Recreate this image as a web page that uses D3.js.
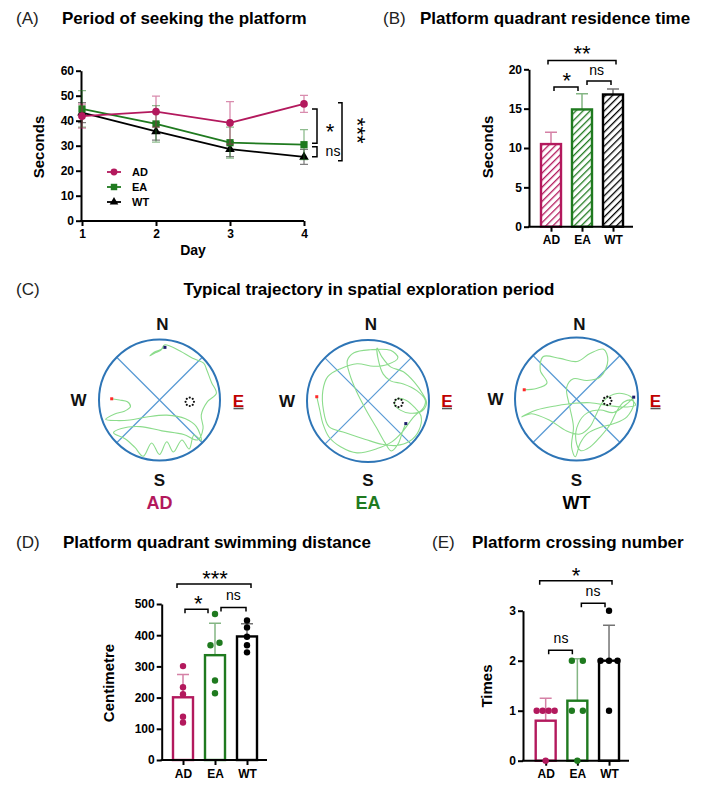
<!DOCTYPE html>
<html><head><meta charset="utf-8">
<script src="https://cdn.jsdelivr.net/npm/d3@7"></script>
<style>body{margin:0;background:#fff} svg text{font-family:"Liberation Sans",Arial,sans-serif}</style>
</head><body><svg id="c" width="720" height="798"></svg>
<script>
// ---------------- DATA ----------------
const groups = ["AD","EA","WT"];
const groupColors = ["#b3195d","#1f7a1f","#000000"];
const days = [1,2,3,4];
const yTicksA = [0,10,20,30,40,50,60];
// Panel A: escape latency (mean ± SD)
const latencyAD = [41.8,43.6,39.1,46.7];
const latencyADsd = [4.8,6.2,8.5,3.4];
const latencyEA = [44.7,38.7,31.2,30.4];
const latencyEAsd = [7.3,7.3,6.2,6.0];
const latencyWT = [43.2,35.7,28.6,25.5];
const latencyWTsd = [4.0,3.5,3.0,3.0];
// Panel B: platform quadrant residence time
const yTicksB = [0,5,10,15,20];
const residenceMean = [10.5,14.9,16.8];
const residenceSD = [1.5,2.0,0.7];
// Panel D: platform quadrant swimming distance
const yTicksD = [0,100,200,300,400,500];
const distanceAD = [301,233,211,139,120];
const distanceEA = [468,368,376,255,214];
const distanceWT = [447,425,395,368,345];
const distanceMean = [201,336,396];
const distanceSD = [73,102,41];
// Panel E: platform crossing number
const yTicksE = [0,1,2,3];
const crossingAD = [1,1,1,1,0];
const crossingEA = [2,2,1,1,0];
const crossingWT = [3,2,2,2,1];
const crossingMean = [0.8,1.2,2.0];
const crossingSD = [0.45,0.84,0.71];
// Panel C: swim trajectories (normalized pool coordinates, -1..1)
const pathAD = [[-0.79,-0.02],[-0.66,0],[-0.53,0.03],[-0.48,0.11],[-0.57,0.18],[-0.74,0.23],[-0.89,0.32],[-0.71,0.34],[-0.49,0.33],[-0.21,0.28],[0.12,0.25],[0.43,0.31],[0.61,0.44],[0.69,0.67],[0.57,0.58],[0.49,0.81],[0.37,0.66],[0.23,0.86],[0.12,0.69],[0,0.9],[-0.13,0.71],[-0.27,0.93],[-0.41,0.78],[-0.57,0.64],[-0.76,0.54],[-0.63,0.47],[-0.32,0.44],[0.04,0.51],[0.4,0.57],[0.63,0.66],[0.72,0.47],[0.69,0.25],[0.79,0.03],[0.94,-0.11],[0.86,-0.29],[0.78,-0.5],[0.73,-0.61],[0.57,-0.68],[0.34,-0.81],[0.18,-0.89],[0.08,-0.91],[0.02,-0.82],[-0.07,-0.78],[-0.16,-0.73],[-0.09,-0.79],[0.01,-0.83],[0.09,-0.87]];
const pathEA = [[-0.84,-0.07],[-0.79,0.15],[-0.74,0.37],[-0.64,0.59],[-0.45,0.75],[-0.18,0.85],[0.15,0.78],[0.39,0.67],[0.56,0.51],[0.75,0.26],[0.91,0.11],[0.94,-0.01],[0.8,-0.17],[0.58,-0.28],[0.37,-0.33],[0.25,-0.44],[0.17,-0.67],[0.15,-0.87],[0.23,-0.72],[0.37,-0.56],[0.58,-0.48],[0.76,-0.31],[0.9,-0.11],[0.96,0.03],[0.89,0.16],[0.69,0.2],[0.53,0.15],[0.43,0.05],[0.49,-0.04],[0.63,-0.01],[0.76,0.1],[0.87,0.25],[0.83,0.49],[0.68,0.66],[0.46,0.73],[0.23,0.71],[-0.04,0.63],[-0.37,0.52],[-0.64,0.42],[-0.73,0.15],[-0.74,-0.17],[-0.66,-0.4],[-0.45,-0.53],[-0.18,-0.61],[0.09,-0.57],[0.32,-0.6],[0.49,-0.71],[0.37,-0.83],[0.04,-0.84],[-0.23,-0.79],[-0.34,-0.66],[-0.3,-0.44],[-0.19,-0.16],[-0.03,0.15],[0.14,0.44],[0.27,0.67],[0.38,0.82],[0.49,0.71],[0.57,0.49],[0.62,0.37]];
const pathWT = [[-0.85,-0.15],[-0.65,-0.17],[-0.48,-0.26],[-0.59,-0.47],[-0.54,-0.69],[-0.27,-0.66],[0.01,-0.61],[0.22,-0.74],[0.44,-0.81],[0.51,-0.63],[0.39,-0.36],[0.17,-0.3],[-0.05,-0.33],[-0.16,-0.19],[-0.11,0.13],[-0.05,0.45],[-0.08,0.78],[-0.02,0.94],[0.06,0.72],[0.18,0.56],[0.39,0.46],[0.61,0.4],[0.82,0.29],[0.93,0.08],[0.88,-0.04],[0.66,-0.09],[0.45,0.02],[0.33,0.23],[0.22,0.45],[0.06,0.57],[-0.16,0.52],[-0.43,0.35],[-0.73,0.24],[-0.89,0.29],[-0.65,0.18],[-0.32,0.11],[-0.04,0.07],[0.22,0.06],[0.55,0.11],[0.82,0.13],[0.96,0.1],[0.9,0.02],[0.77,0.05],[0.66,0.19],[0.55,0.41],[0.39,0.61],[0.22,0.78],[0.07,0.84],[-0.01,0.67],[0.03,0.4],[0.17,0.23],[0.39,0.18],[0.6,0.22],[0.83,0.07],[0.93,-0.03]];
const platformPos = [0.5,0.03];
const compass = ["N","S","W","E"];

// ---------------- HELPERS ----------------
const svg = d3.select("#c");
function txt(x,y,s,o={}){
  return svg.append("text").attr("x",x).attr("y",y)
    .attr("text-anchor",o.anchor||"middle").attr("dominant-baseline","central")
    .attr("font-size",o.size||12).attr("font-weight",o.weight||"bold")
    .attr("fill",o.fill||"#000").text(s);
}
function star(x,y,s,size){ return txt(x,y+0.23*size,s,{size:size,weight:"normal"}); }
function ns(x,y){ return txt(x,y-1,"ns",{size:14,weight:"normal"}); }
function hBracket(x1,x2,y,drop){
  svg.append("path").attr("d",`M${x1},${y+drop}V${y}H${x2}V${y+drop}`)
    .attr("fill","none").attr("stroke","#000").attr("stroke-width",1.5);
}
function vBracket(x,y1,y2,w){
  svg.append("path").attr("d",`M${x-w},${y1}H${x}V${y2}H${x-w}`)
    .attr("fill","none").attr("stroke","#000").attr("stroke-width",1.5);
}
function styleAxis(g){
  g.select(".domain").attr("stroke","#000").attr("stroke-width",2);
  g.selectAll(".tick line").attr("stroke","#000").attr("stroke-width",2);
  g.selectAll(".tick text").attr("font-size",12).attr("font-weight","bold").attr("fill","#000")
    .attr("font-family",'"Liberation Sans",Arial,sans-serif');
}
function panelTitle(x0,x1,y,letter,title){
  txt(x0,y,letter,{anchor:"start",size:17,weight:"normal",fill:"#222"});
  txt(x1,y,title,{anchor:"start",size:17});
}

// ---------------- PANEL A ----------------
panelTitle(16,62,18,"(A)","Period of seeking the platform");
const xA = d3.scaleLinear().domain([1,4]).range([82,304]);
const yA = d3.scaleLinear().domain([0,60]).range([220.7,70.7]);
const gAy = svg.append("g").attr("transform","translate(81,0)")
  .call(d3.axisLeft(yA).tickValues(yTicksA).tickSize(5).tickSizeOuter(0).tickPadding(2));
styleAxis(gAy);
const gAx = svg.append("g").attr("transform","translate(0,221)")
  .call(d3.axisBottom(xA).tickValues(days).tickFormat(d3.format("d")).tickSize(5).tickSizeOuter(0).tickPadding(3));
styleAxis(gAx);
gAx.select(".domain").attr("d","M80,0H304");
txt(38,147,"Seconds",{size:15}).attr("transform","rotate(-90,38,147)");
txt(193,250,"Day",{size:14});

const latency = [[latencyAD,latencyADsd],[latencyEA,latencyEAsd],[latencyWT,latencyWTsd]];
const symTypes = [d3.symbolCircle,d3.symbolSquare,d3.symbolTriangle];
const symSizes = [46,52,40];
[2,1,0].forEach(gi=>{
  const [m,sd] = latency[gi]; const col = groupColors[gi];
  const g = svg.append("g");
  days.forEach((d,i)=>{
    const x = xA(d);
    g.append("path").attr("d",`M${x},${yA(m[i]-sd[i])}V${yA(m[i]+sd[i])}M${x-4},${yA(m[i]-sd[i])}H${x+4}M${x-4},${yA(m[i]+sd[i])}H${x+4}`)
      .attr("stroke",col).attr("stroke-opacity",0.5).attr("stroke-width",1.3).attr("fill","none");
  });
  g.append("path").datum(m).attr("d",d3.line().x((v,i)=>xA(days[i])).y(v=>yA(v)))
    .attr("fill","none").attr("stroke",col).attr("stroke-width",1.8);
  g.selectAll(".pt").data(m).enter().append("path")
    .attr("transform",(v,i)=>`translate(${xA(days[i])},${yA(v)})`)
    .attr("d",d3.symbol().type(symTypes[gi]).size(symSizes[gi])).attr("fill",col);
});
groups.forEach((gname,i)=>{
  const y = 172+15*i;
  svg.append("line").attr("x1",107).attr("x2",121).attr("y1",y).attr("y2",y).attr("stroke",groupColors[i]).attr("stroke-width",1.8);
  svg.append("path").attr("transform",`translate(114,${y})`).attr("d",d3.symbol().type(symTypes[i]).size(symSizes[i]*0.8)).attr("fill",groupColors[i]);
  txt(132,y,gname,{anchor:"start",size:11});
});
vBracket(317,yA(44.7),yA(31),5); star(330,yA(37.6),"*",22);
vBracket(317,yA(29.6),yA(25.6),5); ns(333,yA(27.5));
vBracket(342,yA(47.2),yA(24),4);
txt(357.5,yA(36),"***",{size:22,weight:"normal"}).attr("transform",`rotate(90,357.5,${yA(36)})`);

// ---------------- PANEL B ----------------
panelTitle(383,420,18,"(B)","Platform quadrant residence time");
const xB = d3.scaleBand().domain(groups).range([541,623]).paddingInner(0.355);
const yB = d3.scaleLinear().domain([0,20]).range([226.7,69.3]);
const defs = svg.append("defs");
groups.forEach((gname,i)=>{
  const p = defs.append("pattern").attr("id","hatch"+gname).attr("patternUnits","userSpaceOnUse")
    .attr("width",5).attr("height",5).attr("patternTransform","rotate(45)");
  p.append("rect").attr("width",5).attr("height",5).attr("fill","#fff");
  p.append("line").attr("x1",0).attr("y1",0).attr("x2",0).attr("y2",5).attr("stroke",groupColors[i]).attr("stroke-width",2.6);
});
function barPanel(xS,yS,means,sds,ax,ticks,fillFn,yTitle,yTitleX,capW){
  const y0 = yS.range()[0];
  means.forEach((m,i)=>{
    const g = groups[i], cx = xS(g)+xS.bandwidth()/2;
    svg.append("path").attr("d",`M${cx},${yS(m)}V${yS(m+sds[i])}M${cx-capW},${yS(m+sds[i])}H${cx+capW}`)
      .attr("stroke",groupColors[i]).attr("stroke-opacity",0.55).attr("stroke-width",1.5).attr("fill","none");
    svg.append("rect").attr("x",xS(g)).attr("y",yS(m)).attr("width",xS.bandwidth()).attr("height",y0-yS(m))
      .attr("fill",fillFn(i)).attr("stroke",groupColors[i]).attr("stroke-width",2.4);
  });
  const gy = svg.append("g").attr("transform",`translate(${ax},0)`)
    .call(d3.axisLeft(yS).tickValues(ticks).tickFormat(d3.format("d")).tickSize(5).tickSizeOuter(0).tickPadding(2));
  styleAxis(gy);
  const xEnd = xS.range()[1]+10;
  const gx = svg.append("g").attr("transform",`translate(0,${y0})`)
    .call(d3.axisBottom(d3.scalePoint().domain(groups).range([xS("AD")+xS.bandwidth()/2,xS("WT")+xS.bandwidth()/2])).tickSize(5).tickSizeOuter(0).tickPadding(4));
  styleAxis(gx);
  gx.select(".domain").attr("d",`M${ax-1},0H${xEnd}`);
  txt(yTitleX[0],yTitleX[1],yTitle,{size:15}).attr("transform",`rotate(-90,${yTitleX[0]},${yTitleX[1]})`);
}
barPanel(xB,yB,residenceMean,residenceSD,529,yTicksB,i=>`url(#hatch${groups[i]})`,"Seconds",[487,147],6);
const cB = g=>xB(g)+xB.bandwidth()/2;
hBracket(cB("AD")-3,cB("WT")+3,yB(21.13),4); star(582,yB(22.7),"**",22);
hBracket(cB("AD")+3,cB("EA")-4,yB(17.76),4); star(566.7,yB(19.16),"*",22);
hBracket(cB("EA")+5,cB("WT")-2,yB(18.52),4); ns(596.7,yB(19.83));

// ---------------- PANEL C ----------------
txt(16,289,"(C)",{anchor:"start",size:17,weight:"normal",fill:"#222"});
txt(369,289,"Typical trajectory in spatial exploration period",{size:17});
const pools = [
  {cx:159.5,cy:400,r:60.5,path:pathAD},
  {cx:368,cy:401,r:61,path:pathEA},
  {cx:576.5,cy:399,r:61.5,path:pathWT}
];
pools.forEach((p,i)=>{
  const sx = d3.scaleLinear().domain([-1,1]).range([p.cx-p.r,p.cx+p.r]);
  const sy = d3.scaleLinear().domain([-1,1]).range([p.cy-p.r,p.cy+p.r]);
  const g = svg.append("g");
  const k = Math.SQRT1_2;
  g.append("path").attr("d",`M${sx(-k)},${sy(-k)}L${sx(k)},${sy(k)}M${sx(k)},${sy(-k)}L${sx(-k)},${sy(k)}`)
    .attr("stroke","#5b9bd5").attr("stroke-width",1.3);
  g.append("path").datum(p.path).attr("d",d3.line().x(d=>sx(d[0])).y(d=>sy(d[1])).curve(d3.curveCatmullRom.alpha(0.5)))
    .attr("fill","none").attr("stroke","#8cdc8c").attr("stroke-width",1.1);
  g.append("circle").attr("cx",p.cx).attr("cy",p.cy).attr("r",p.r).attr("fill","none").attr("stroke","#2e75b6").attr("stroke-width",2);
  d3.range(8).forEach(j=>{
    const a = j/8*2*Math.PI;
    g.append("circle").attr("cx",sx(platformPos[0])+4.2*Math.cos(a)).attr("cy",sy(platformPos[1])+4.2*Math.sin(a)).attr("r",1.1).attr("fill","#111");
  });
  const st = p.path[0], en = p.path[p.path.length-1];
  g.append("rect").attr("x",sx(st[0])-1.5).attr("y",sy(st[1])-1.5).attr("width",3).attr("height",3).attr("fill","#ff2a2a");
  g.append("rect").attr("x",sx(en[0])-1.5).attr("y",sy(en[1])-1.5).attr("width",3).attr("height",3).attr("fill","#1c1c6b");
  txt(p.cx+3,324,compass[0],{size:17,fill:"#111"});
  txt(p.cx,480,compass[1],{size:17,fill:"#111"});
  txt(p.cx-81,p.cy,compass[2],{size:17,fill:"#111"});
  txt(p.cx+79,401,compass[3],{size:17,fill:"#c00000"});
  g.append("line").attr("x1",p.cx+74).attr("x2",p.cx+84).attr("y1",408.5).attr("y2",408.5).attr("stroke","#555").attr("stroke-width",1.6);
  txt(p.cx,503,groups[i],{size:18,fill:groupColors[i]});
});

// ---------------- PANEL D ----------------
panelTitle(16,63,542,"(D)","Platform quadrant swimming distance");
const xD = d3.scaleBand().domain(groups).range([173,257]).paddingInner(0.375);
const yD = d3.scaleLinear().domain([0,500]).range([760,604]);
barPanel(xD,yD,distanceMean,distanceSD,161.7,yTicksD,()=>"#fff","Centimetre",[108,683],6);
function dots(xS,yS,vals,gi,thr,spacings){
  const cx = xS(groups[gi])+xS.bandwidth()/2;
  const ys = vals.map(v=>yS(v));
  const used = new Array(vals.length).fill(false);
  vals.forEach((v,i)=>{
    if(used[i]) return;
    const cl = []; ys.forEach((yy,j)=>{ if(!used[j] && Math.abs(yy-ys[i])<thr){cl.push(j);used[j]=true;} });
    const sp = spacings[cl.length]||6;
    cl.forEach((j,k)=>{
      svg.append("circle").attr("cx",cx+(k-(cl.length-1)/2)*sp).attr("cy",ys[j]).attr("r",3.2).attr("fill",groupColors[gi]);
    });
  });
}
[distanceAD,distanceEA,distanceWT].forEach((v,i)=>dots(xD,yD,v,i,5,{1:0,2:9,3:8,4:6}));
const cD = g=>xD(g)+xD.bandwidth()/2;
hBracket(cD("AD")-6,cD("WT")+4,yD(564),4); star(215,yD(598),"***",22);
hBracket(cD("AD")+2,cD("EA")-7,yD(483),4); star(198.3,yD(517),"*",22);
hBracket(cD("EA")+6,cD("WT")-1,yD(489),4); ns(233.3,yD(526));

// ---------------- PANEL E ----------------
panelTitle(432,472,542,"(E)","Platform crossing number");
const xE = d3.scaleBand().domain(groups).range([535.7,619]).paddingInner(0.37);
const yE = d3.scaleLinear().domain([0,3]).range([760.7,610.7]);
barPanel(xE,yE,crossingMean,crossingSD,523,yTicksE,()=>"#fff","Times",[486,686],6);
[crossingAD,crossingEA,crossingWT].forEach((v,i)=>dots(xE,yE,v,i,3,{1:0,2:11,3:8.5,4:6}));
const cE = g=>xE(g)+xE.bandwidth()/2;
hBracket(cE("AD")-6,cE("WT")+3,yE(3.6),4); star(576,yE(3.81),"*",22);
hBracket(cE("AD")+3,cE("EA")-5,yE(2.21),4); ns(561,yE(2.43));
hBracket(cE("EA")+4,cE("WT")-4,yE(3.15),4); ns(593,yE(3.38));
</script></body></html>
